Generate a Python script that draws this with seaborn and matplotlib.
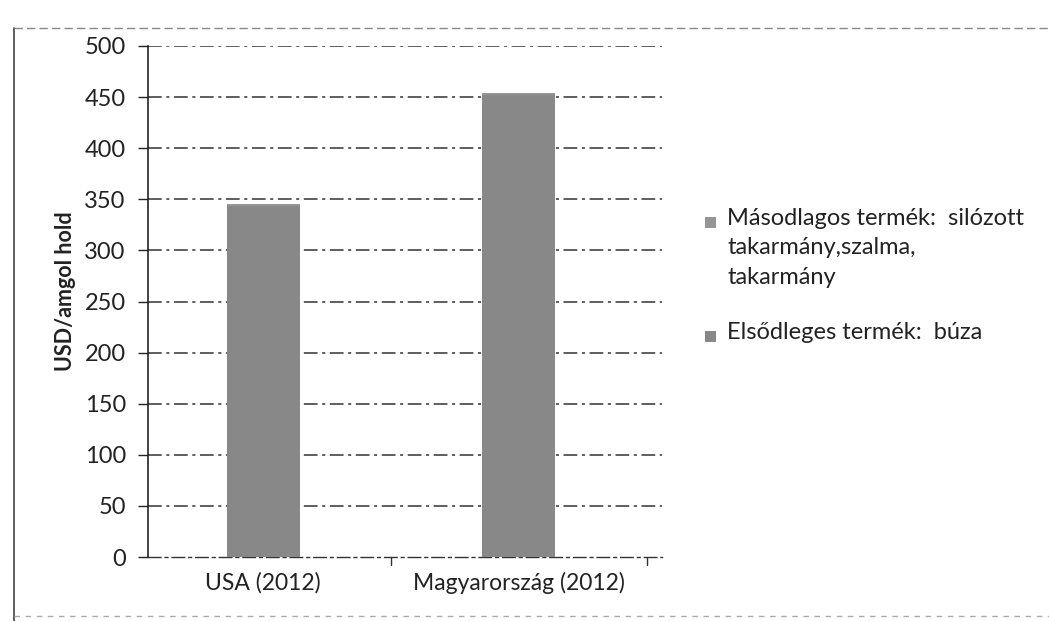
import matplotlib
matplotlib.use("Agg")
import matplotlib.pyplot as plt
import seaborn as sns
import pandas as pd
from matplotlib.patches import Rectangle
from matplotlib.lines import Line2D

categories = ["USA (2012)", "Magyarország (2012)"]
primary = [343, 452]      # Elsődleges termék: búza
secondary = [2, 2]        # Másodlagos termék
yticks = [0, 50, 100, 150, 200, 250, 300, 350, 400, 450, 500]
ylabel = "USD/amgol hold"
legend_labels = ["Másodlagos termék:  silózott\ntakarmány,szalma,\ntakarmány",
                 "Elsődleges termék:  búza"]

sns.set_theme(style="white")
plt.rcParams["font.family"] = ["Lato", "DejaVu Sans"]

df = pd.DataFrame({"cat": categories,
                   "primary": primary,
                   "total": [p + s for p, s in zip(primary, secondary)]})

W, H = 1049, 621
fig = plt.figure(figsize=(W / 100, H / 100), dpi=100)
ax = fig.add_axes([148/W, 1 - 557/H, (662-148)/W, (557-46)/H])

c_prim = "#888888"
c_sec = "#959595"
sns.barplot(data=df, x="cat", y="total", color=c_sec, width=0.285, ax=ax,
            saturation=1, edgecolor="none", zorder=3)
sns.barplot(data=df, x="cat", y="primary", color=c_prim, width=0.285, ax=ax,
            saturation=1, edgecolor="none", zorder=3)

ax.set_xlim(-0.45, 1.56)
ax.set_ylim(0, 500)
ax.set_yticks(yticks)
ax.set_yticklabels([str(v) for v in yticks], fontsize=17, color="#222222")
ax.tick_params(axis="x", labelsize=16.5, colors="#222222", length=0, pad=11)
ax.tick_params(axis="y", length=7, width=1, direction="out", color="#222222", pad=9, left=True)
ax.set_xlabel("")
ax.set_ylabel(ylabel, fontsize=15.5, fontweight="bold", color="#222222")
ax.yaxis.set_label_coords(-0.14, 0.52)

for v in yticks[1:]:
    ax.axhline(v, color="#333333", lw=1.1, ls=(0, (9, 3, 2, 3)), zorder=1)

for s in ["top", "right"]:
    ax.spines[s].set_visible(False)
ax.spines["left"].set_color("#222222")
ax.spines["left"].set_linewidth(1.2)
ax.spines["bottom"].set_color("#333333")
ax.spines["bottom"].set_linewidth(1.0)
ax.spines["bottom"].set_linestyle((0, (9, 3, 2, 3)))

# category separator ticks on x axis
for xp in [0.5, 1.5]:
    ax.plot([xp, xp], [0, -8], color="#333333", lw=1, clip_on=False)
ax.set_ylim(0, 500)

# legend (marker aligned to first line of each entry, as in the original)
leg_x_marker = 705 / W
leg_x_text = 727 / W
entries_y = [222, 336]
for lab, col, yy in zip(legend_labels, [c_sec, c_prim], entries_y):
    fig.add_artist(Rectangle((leg_x_marker, 1 - (yy + 6) / H), 11 / W, 11 / H,
                             transform=fig.transFigure, facecolor=col, edgecolor="none"))
    fig.text(leg_x_text, 1 - (yy - 14) / H, lab, fontsize=17, color="#222222",
             va="top", ha="left", linespacing=1.5)

# outer frame of the scanned chart
fig.add_artist(Line2D([14/W, 14/W], [0, 1 - 28/H], color="#444444", lw=1.2))
fig.add_artist(Line2D([14/W, 1], [1 - 28/H, 1 - 28/H], color="#888888", lw=1,
                      ls=(0, (6, 3))))
fig.add_artist(Line2D([14/W, 1], [1 - 616/H, 1 - 616/H], color="#aaaaaa", lw=1,
                      ls=(0, (4, 4))))

fig.savefig("out.png", dpi=100, facecolor="white")
